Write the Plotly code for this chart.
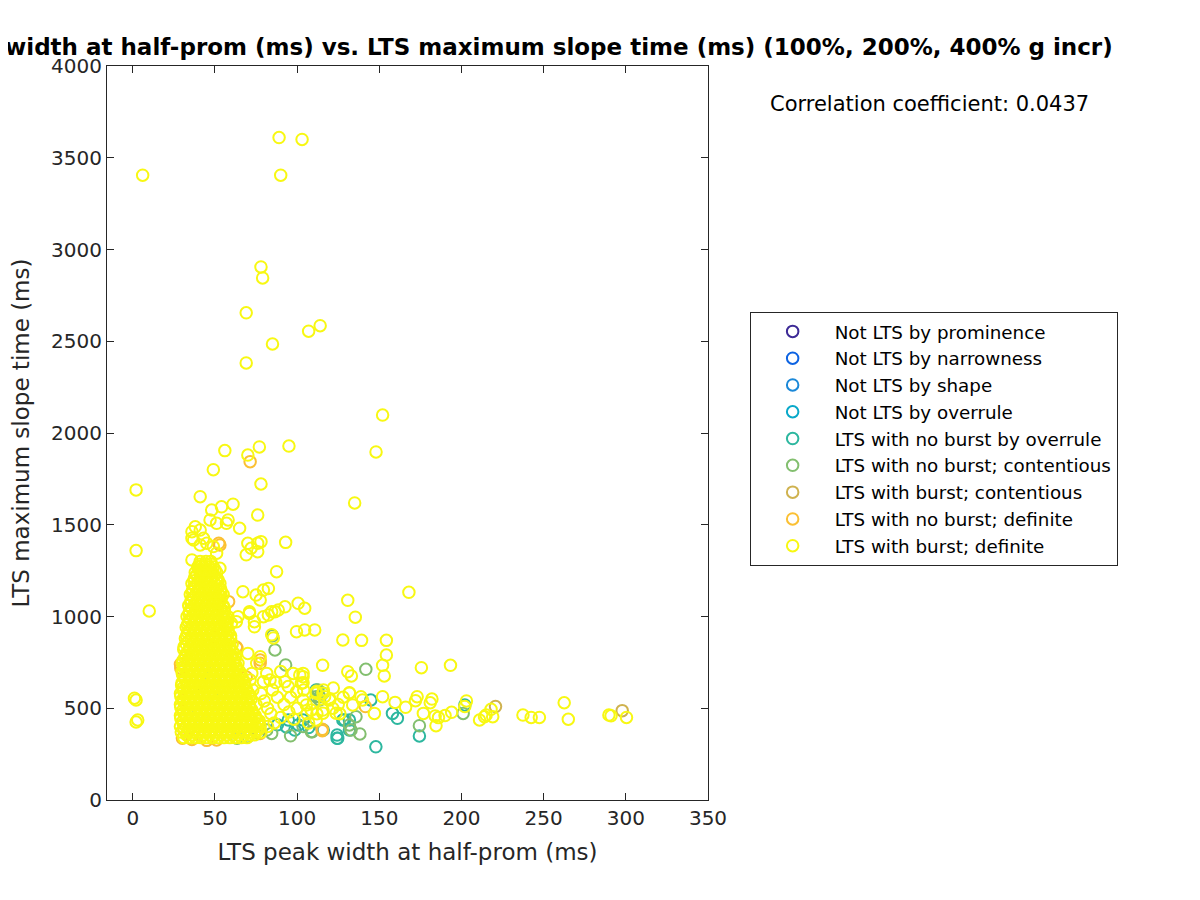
import plotly.graph_objects as go

# ---------------- data ----------------
categories = [
    "Not LTS by prominence",
    "Not LTS by narrowness",
    "Not LTS by shape",
    "Not LTS by overrule",
    "LTS with no burst by overrule",
    "LTS with no burst; contentious",
    "LTS with burst; contentious",
    "LTS with no burst; definite",
    "LTS with burst; definite",
]
colors = ["#3d2a96", "#0d63e2", "#1b88d8", "#08a8c9", "#2db79f",
          "#83bf6f", "#cfb24f", "#fbc033", "#f8f812"]

# points hidden under the dense yellow cluster
not_prominence = [(44, 700), (43, 580)]
not_narrowness = [(47.5, 640), (39.5, 460)]
not_shape = [(45.5, 730), (50, 520)]
not_overrule = [(51.5, 610), (44.5, 430)]

nb_overrule = [(147.9, 290), (174.4, 349), (161, 445), (158, 472), (144.8, 545),
               (124.3, 336), (124.3, 354), (131.8, 436), (127.8, 436), (115.9, 381),
               (128.8, 436), (124.7, 336), (131.8, 381), (98.6, 381), (103.6, 436),
               (94.6, 436), (111.6, 600), (115.7, 582), (100.7, 409), (93.5, 398),
               (202, 518), (88, 410), (107, 395)]
nb_contentious = [(141.8, 712), (174.4, 405), (138.2, 360), (132.8, 381), (131.8, 409),
                  (135.8, 454), (109.2, 372), (112.7, 600), (111.6, 563), (201, 472),
                  (86.5, 818), (93, 736), (108.6, 372), (103.6, 400), (84.5, 363),
                  (81.5, 381), (76.5, 363), (63.4, 336), (113.7, 563), (113.7, 545),
                  (85, 895), (96, 350), (70, 345)]
b_contentious = [(220.7, 509), (297.8, 487)]
nb_definite = [(29.2, 718), (31.2, 383), (30.2, 336), (49.3, 890), (52.3, 1399),
               (58.3, 1081), (63.4, 827), (77.5, 763), (77.5, 363), (115.3, 385),
               (141.5, 509), (71.4, 1844), (115.3, 378), (51, 327), (29, 740),
               (31, 545), (53, 1390), (63, 834), (69, 670), (77.5, 745), (45, 325),
               (36, 330)]

b_definite_outliers = [
    (6, 3405), (89, 3610), (103, 3600), (90, 3405), (78, 2905), (79, 2845), (69, 2655),
    (114, 2585), (107, 2555), (85, 2485), (69, 2382), (152, 2098), (2, 1690), (95, 1929),
    (77, 1924), (148, 1897), (56, 1904), (49, 1800), (70, 1880), (41, 1653), (78, 1722),
    (135, 1619), (61, 1612), (76, 1553), (2, 1359), (93, 1404), (10, 1030), (1, 555),
    (2, 545), (3, 436), (2, 425)]
b_definite_upper = [
    (54, 1598), (48, 1580), (36, 1462), (38, 1489), (41, 1471), (43, 1426), (47, 1526),
    (51, 1508), (58, 1526), (65, 1481), (57, 1508), (36, 1426), (37, 1417), (41, 1390),
    (45, 1399), (49, 1381), (51, 1345), (36, 1308), (41, 1272), (53, 1263), (52, 1199),
    (43, 1236), (70, 1399), (76, 1399), (78, 1408), (72, 1372), (76, 1353), (69, 1336),
    (87.5, 1244)]
b_definite_mid = [
    (67, 1135), (75, 1117), (79.5, 1144), (82.5, 1153), (77.5, 1090), (71, 1026), (74, 972),
    (79.5, 999), (82.5, 1008), (84.5, 1026), (88.5, 1035), (92.6, 1053), (100.6, 1072),
    (104.6, 1045), (99.6, 917), (104.6, 927), (110.7, 927), (86.5, 1026), (58, 999),
    (64, 999), (63, 972), (60, 963), (71, 1017), (74, 944), (70, 799), (127.8, 872),
    (130.8, 1088), (135.4, 996), (168, 1132), (139.2, 870), (154.3, 870), (154.3, 790),
    (152, 734), (153, 676), (175.6, 721), (193.3, 734), (115.5, 734), (133, 676),
    (103.6, 672), (103.6, 639), (84.5, 900), (85.5, 883)]
b_definite_low = [
    (75.4, 745), (81.5, 690), (79.5, 645), (72.4, 690), (71.4, 654), (83.5, 654),
    (77.5, 781), (92.6, 645), (94.6, 618), (97.6, 690), (101.6, 681), (103.6, 690),
    (102.6, 636), (99.6, 590), (103.6, 545), (105.6, 518), (111.6, 582), (115.7, 582),
    (119.7, 545), (121.7, 500), (123.7, 473), (115.7, 490), (108.6, 490), (111.6, 436),
    (115.7, 473), (130.8, 699), (131.8, 582), (116, 600), (111.6, 591), (116.7, 563),
    (120, 550), (138.8, 563), (139.8, 545), (133.8, 518), (131.8, 585), (152, 563),
    (159.6, 532), (166, 505), (173, 563), (172, 541), (182, 550), (181, 530), (147, 472),
    (176.8, 472), (184, 458), (186, 449), (184.5, 405), (190, 460), (194, 478), (202, 509),
    (203, 540), (211, 436), (214, 454), (215, 463), (219, 454), (218, 494), (237.4, 463),
    (242.4, 450), (247.4, 450), (262.5, 530), (265, 440), (289.7, 463), (291, 459),
    (300.4, 450), (85, 600), (88, 560), (92, 520), (95, 480), (90, 450), (86, 420),
    (82, 500), (80, 540), (78, 580), (84, 470), (98, 440), (100, 500), (96, 560),
    (106, 470), (110, 530), (104, 600), (90, 700), (87, 640), (75, 520), (73, 600),
    (77, 430), (82, 400), (70, 420), (68, 480), (66, 560), (64, 640), (107, 420),
    (112, 470), (125, 520), (128, 560), (122, 610), (126, 470)]

# dense core of the yellow cluster: one y value per row with the x values seen on it
core_y = [340, 370, 400, 430, 460, 490, 520, 550, 580, 610, 640, 670, 700, 730, 760,
          790, 820, 850, 880, 910, 940, 970, 1000, 1030, 1060, 1090, 1120, 1150, 1180,
          1210, 1240, 1270, 1300]
core_x = [
    [31, 34.5, 38, 41.5, 45, 48.5, 52, 55.5, 59, 62.5, 66, 69.5],
    [29.5, 33, 36.5, 40, 43.5, 47, 50.5, 54, 57.5, 61, 64.5, 68, 71.5, 75, 78],
    [29, 32.5, 36, 39.5, 43, 46.5, 50, 53.5, 57, 60.5, 64, 67.5, 71, 74.5, 77.5],
    [30.5, 34, 37.5, 41, 44.5, 48, 51.5, 55, 58.5, 62, 65.5, 69, 72.5, 76],
    [29, 32.5, 36, 39.5, 43, 46.5, 50, 53.5, 57, 60.5, 64, 67.5, 71, 74.5],
    [30.5, 34, 37.5, 41, 44.5, 48, 51.5, 55, 58.5, 62, 65.5, 69, 72.5],
    [29, 32.5, 36, 39.5, 43, 46.5, 50, 53.5, 57, 60.5, 64, 67.5, 71],
    [30.5, 34, 37.5, 41, 44.5, 48, 51.5, 55, 58.5, 62, 65.5, 69, 72],
    [29, 32.5, 36, 39.5, 43, 46.5, 50, 53.5, 57, 60.5, 64, 67.5, 70.5],
    [30.5, 34, 37.5, 41, 44.5, 48, 51.5, 55, 58.5, 62, 65.5, 69],
    [30, 33.5, 37, 40.5, 44, 47.5, 51, 54.5, 58, 61.5, 65, 68],
    [31.5, 35, 38.5, 42, 45.5, 49, 52.5, 56, 59.5, 63, 66.5],
    [30, 33.5, 37, 40.5, 44, 47.5, 51, 54.5, 58, 61.5, 65],
    [31.5, 35, 38.5, 42, 45.5, 49, 52.5, 56, 59.5, 63],
    [30.5, 34, 37.5, 41, 44.5, 48, 51.5, 55, 58.5, 62],
    [32, 35.5, 39, 42.5, 46, 49.5, 53, 56.5, 60, 62.5],
    [31, 34.5, 38, 41.5, 45, 48.5, 52, 55.5, 59],
    [32.5, 36, 39.5, 43, 46.5, 50, 53.5, 57, 60.5],
    [32, 35.5, 39, 42.5, 46, 49.5, 53, 56.5, 59.5],
    [33.5, 37, 40.5, 44, 47.5, 51, 54.5, 58],
    [32.5, 36, 39.5, 43, 46.5, 50, 53.5, 57],
    [34, 37.5, 41, 44.5, 48, 51.5, 55, 57.5],
    [33, 36.5, 40, 43.5, 47, 50.5, 54, 56.5],
    [34.5, 38, 41.5, 45, 48.5, 52, 55.5],
    [34, 37.5, 41, 44.5, 48, 51.5, 55],
    [35.5, 39, 42.5, 46, 49.5, 53],
    [35, 38.5, 42, 45.5, 49, 52.5, 55],
    [36.5, 40, 43.5, 47, 50.5, 53.5],
    [36, 39.5, 43, 46.5, 50, 53],
    [37.5, 41, 44.5, 48, 51],
    [38, 41.5, 45, 48.5, 51],
    [39.5, 43, 46.5, 49],
    [41, 44.5, 47.5],
]
# further rows of the dense core, lying between the rows above
core2_y = [355, 385, 415, 445, 475, 505, 535, 565, 595, 625, 655, 685, 715, 745, 775,
           805, 835, 865, 895, 925, 955, 985, 1015, 1045, 1075, 1105, 1135, 1165, 1195,
           1225, 1255, 1285]
core2_x = [
    [32.7, 36.2, 39.7, 43.2, 46.7, 50.2, 53.7, 57.2, 60.7, 64.2, 67.7, 71.2, 74],
    [31.2, 34.7, 38.2, 41.7, 45.2, 48.7, 52.2, 55.7, 59.2, 62.7, 66.2, 69.7, 73.2, 76.7],
    [30.7, 34.2, 37.7, 41.2, 44.7, 48.2, 51.7, 55.2, 58.7, 62.2, 65.7, 69.2, 72.7, 76.2],
    [29.2, 32.7, 36.2, 39.7, 43.2, 46.7, 50.2, 53.7, 57.2, 60.7, 64.2, 67.7, 71.2, 74.7],
    [30.7, 34.2, 37.7, 41.2, 44.7, 48.2, 51.7, 55.2, 58.7, 62.2, 65.7, 69.2, 72.7],
    [29.2, 32.7, 36.2, 39.7, 43.2, 46.7, 50.2, 53.7, 57.2, 60.7, 64.2, 67.7, 71.2],
    [30.7, 34.2, 37.7, 41.2, 44.7, 48.2, 51.7, 55.2, 58.7, 62.2, 65.7, 69.2],
    [29.2, 32.7, 36.2, 39.7, 43.2, 46.7, 50.2, 53.7, 57.2, 60.7, 64.2, 67.7, 71],
    [30.7, 34.2, 37.7, 41.2, 44.7, 48.2, 51.7, 55.2, 58.7, 62.2, 65.7, 69],
    [29.7, 33.2, 36.7, 40.2, 43.7, 47.2, 50.7, 54.2, 57.7, 61.2, 64.7, 68],
    [31.7, 35.2, 38.7, 42.2, 45.7, 49.2, 52.7, 56.2, 59.7, 63.2, 66.7],
    [30.2, 33.7, 37.2, 40.7, 44.2, 47.7, 51.2, 54.7, 58.2, 61.7, 65.2],
    [31.7, 35.2, 38.7, 42.2, 45.7, 49.2, 52.7, 56.2, 59.7, 63.2],
    [30.2, 33.7, 37.2, 40.7, 44.2, 47.7, 51.2, 54.7, 58.2, 61.7, 64],
    [31.7, 35.2, 38.7, 42.2, 45.7, 49.2, 52.7, 56.2, 59.7, 62.5],
    [33.2, 36.7, 40.2, 43.7, 47.2, 50.7, 54.2, 57.7, 61],
    [31.2, 34.7, 38.2, 41.7, 45.2, 48.7, 52.2, 55.7, 59.2],
    [33.7, 37.2, 40.7, 44.2, 47.7, 51.2, 54.7, 58.2],
    [32.7, 36.2, 39.7, 43.2, 46.7, 50.2, 53.7, 57.2, 59.5],
    [34.2, 37.7, 41.2, 44.7, 48.2, 51.7, 55.2, 58],
    [33.2, 36.7, 40.2, 43.7, 47.2, 50.7, 54.2, 57],
    [34.7, 38.2, 41.7, 45.2, 48.7, 52.2, 55.7],
    [34.2, 37.7, 41.2, 44.7, 48.2, 51.7, 55.2],
    [35.7, 39.2, 42.7, 46.2, 49.7, 53.2, 55.8],
    [35.2, 38.7, 42.2, 45.7, 49.2, 52.7],
    [36.7, 40.2, 43.7, 47.2, 50.7, 54],
    [36.2, 39.7, 43.2, 46.7, 50.2, 53.7],
    [37.7, 41.2, 44.7, 48.2, 51.7],
    [37.2, 40.7, 44.2, 47.7, 51.2],
    [38.7, 42.2, 45.7, 49.2],
    [40.2, 43.7, 47.2, 50],
    [40.7, 44.2, 47.7],
]

x_ticks = [0, 50, 100, 150, 200, 250, 300, 350]
y_ticks = [0, 500, 1000, 1500, 2000, 2500, 3000, 3500, 4000]
corr_value = 0.0437

title_text = ("LTS peak width at half-prom (ms) vs. LTS maximum slope time (ms) "
              "(100%, 200%, 400% g incr)")
x_label = "LTS peak width at half-prom (ms)"
y_label = "LTS maximum slope time (ms)"

# ---------------- assemble ----------------
b_definite = b_definite_outliers + b_definite_upper + b_definite_mid + b_definite_low
for rows_y, rows_x in ((core_y, core_x), (core2_y, core2_x)):
    for yv, xs in zip(rows_y, rows_x):
        b_definite = b_definite + [(xv, yv) for xv in xs]

series = [not_prominence, not_narrowness, not_shape, not_overrule, nb_overrule,
          nb_contentious, b_contentious, nb_definite, b_definite]

FONT = "DejaVu Sans"
TXT = "#262626"

fig = go.Figure()
for name, col, pts in zip(categories, colors, series):
    fig.add_trace(go.Scatter(
        x=[p[0] for p in pts], y=[p[1] for p in pts], mode="markers", name=name,
        marker=dict(symbol="circle-open", size=11.5, color=col,
                    line=dict(width=2, color=col)),
    ))

OFF = 8  # page body margin of the html page
W, H = 1200, 900
# plot-area edges as seen in the reference picture
RL, RR, RT, RB = 102, 708, 66, 800
L, R, T, B = RL - OFF, RR - OFF, RT - OFF, RB - OFF


def px_x(px):
    return (px - RL) / (RR - RL)


def px_y(py):
    return (RB - py) / (RB - RT)


axis_common = dict(showgrid=False, zeroline=False, showline=True, linecolor=TXT,
                   linewidth=1, mirror="ticks", ticks="inside", ticklen=7,
                   tickcolor=TXT, tickwidth=1,
                   tickfont=dict(family=FONT, size=20, color=TXT))

fig.update_layout(
    width=W, height=H,
    margin=dict(l=L, r=W - R, t=T, b=H - B),
    paper_bgcolor="white", plot_bgcolor="white",
    font=dict(family=FONT, color=TXT),
    xaxis=dict(range=[-15.7, 350], tickvals=x_ticks,
               title=dict(text=x_label, font=dict(family=FONT, size=23, color=TXT),
                          standoff=14),
               **axis_common),
    yaxis=dict(range=[0, 4000], tickvals=y_ticks,
               title=dict(text=y_label, font=dict(family=FONT, size=23, color=TXT),
                          standoff=15),
               **axis_common),
    legend=dict(x=px_x(750), y=px_y(312), xanchor="left", yanchor="top",
                bgcolor="white", bordercolor=TXT, borderwidth=1,
                font=dict(family=FONT, size=18.3, color="#000000"),
                itemwidth=74, tracegroupgap=0),
    showlegend=True,
)

fig.add_annotation(text="<b>" + title_text + "</b>", xref="paper", yref="paper",
                   x=px_x(1118), y=px_y(47), xanchor="right", yanchor="middle",
                   showarrow=False, font=dict(family=FONT, size=23, color="#000000"))
fig.add_annotation(text="Correlation coefficient: %.4f" % corr_value, xref="paper",
                   yref="paper", x=px_x(769), y=px_y(104), xanchor="left",
                   yanchor="middle", showarrow=False,
                   font=dict(family=FONT, size=21, color="#000000"))

fig.write_html("out.html")
